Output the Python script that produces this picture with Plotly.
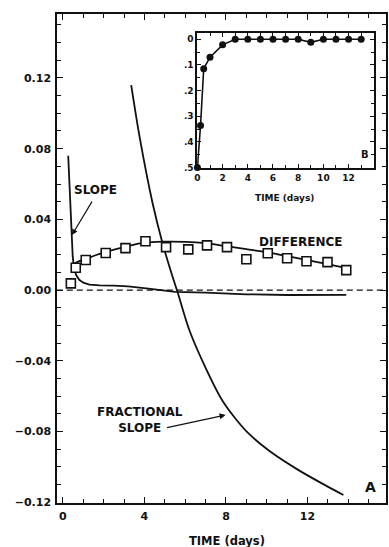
import plotly.graph_objects as go

# ---- Panel A data ----
diff_x = [0.39, 0.63, 1.12, 2.1, 3.07, 4.05, 5.06, 6.15, 7.07, 8.05, 9.0, 10.05, 11.0, 11.95, 12.98, 13.9]
diff_y = [0.0038, 0.0126, 0.017, 0.021, 0.0237, 0.0276, 0.0243, 0.023, 0.0253, 0.0243, 0.0174, 0.0208, 0.018, 0.0163, 0.0158, 0.0113]

diff_fit_x = [0.45, 0.7, 1.1, 1.6, 2.1, 3.1, 4.0, 5.0, 6.0, 7.0, 8.0, 9.0, 10.0, 11.0, 12.0, 13.0, 13.9]
diff_fit_y = [0.014, 0.0158, 0.0175, 0.0197, 0.0216, 0.0246, 0.0268, 0.0274, 0.0273, 0.0265, 0.0248, 0.0231, 0.0214, 0.0192, 0.0169, 0.0147, 0.0124]

slope_x = [0.26, 0.3, 0.36, 0.42, 0.48, 0.55, 0.65, 0.8, 1.0, 1.3, 1.8, 2.5, 3.2, 4.2, 5.5, 7.0, 9.0, 11.0, 13.9]
slope_y = [0.076, 0.064, 0.05, 0.034, 0.019, 0.012, 0.0085, 0.0058, 0.0042, 0.0031, 0.0026, 0.0025, 0.0021, 0.0008, -0.001, -0.0015, -0.0024, -0.0028, -0.0027]

frac_x = [3.35, 3.76, 4.4, 4.89, 5.38, 5.62, 6.2, 7.0, 7.82, 8.47, 9.12, 10.1, 11.56, 12.86, 13.76]
frac_y = [0.116, 0.0868, 0.0491, 0.0264, 0.0075, -0.001, -0.0226, -0.044, -0.0625, -0.0728, -0.0813, -0.0908, -0.1019, -0.1104, -0.116]

zero_x = [-0.3, 15.9]
zero_y = [0.0, 0.0]

# ---- Panel B (inset) data ----
prob_x = [0, 0.25, 0.5, 1, 2, 3, 4, 5, 6, 7, 8, 9, 10, 11, 12, 13]
prob_y = [0.5, 0.336, 0.115, 0.07, 0.022, 0.0, 0.0, 0.0, 0.0, 0.0, 0.0, 0.012, 0.0, 0.0, 0.0, 0.0]
prob_xticks = [0, 2, 4, 6, 8, 10, 12]
prob_yticks = [0, 0.1, 0.2, 0.3, 0.4, 0.5]
prob_yticktext = ["0", ".1", ".2", ".3", ".4", ".5"]

FONT = "DejaVu Sans"
BLACK = "#111111"

fig = go.Figure()

fig.add_trace(go.Scatter(x=zero_x, y=zero_y, mode="lines",
                         line=dict(color=BLACK, width=1.3, dash="6px,4px"),
                         xaxis="x", yaxis="y", showlegend=False))
fig.add_trace(go.Scatter(x=slope_x, y=slope_y, mode="lines",
                         line=dict(color=BLACK, width=1.8),
                         xaxis="x", yaxis="y", showlegend=False))
fig.add_trace(go.Scatter(x=frac_x, y=frac_y, mode="lines", line_shape="spline",
                         line=dict(color=BLACK, width=1.8, smoothing=0.8),
                         xaxis="x", yaxis="y", showlegend=False))
fig.add_trace(go.Scatter(x=diff_fit_x, y=diff_fit_y, mode="lines", line_shape="spline",
                         line=dict(color=BLACK, width=1.8),
                         xaxis="x", yaxis="y", showlegend=False))
fig.add_trace(go.Scatter(x=diff_x, y=diff_y, mode="markers",
                         marker=dict(symbol="square", size=9, color="white",
                                     line=dict(color=BLACK, width=1.6)),
                         xaxis="x", yaxis="y", showlegend=False))

fig.add_trace(go.Scatter(x=prob_x, y=prob_y, mode="lines+markers",
                         line=dict(color=BLACK, width=1.6),
                         marker=dict(symbol="circle", size=7, color=BLACK),
                         xaxis="x2", yaxis="y2", showlegend=False, cliponaxis=False))

tickfont = dict(family=FONT, size=11, color=BLACK, weight="bold")
smallfont = dict(family=FONT, size=9, color=BLACK, weight="bold")

fig.update_layout(
    width=389, height=547,
    margin=dict(l=57, r=1, t=14, b=44),
    paper_bgcolor="white", plot_bgcolor="white",
    xaxis=dict(domain=[0, 1], range=[-0.29, 15.85], tickmode="linear", tick0=0, dtick=4,
               ticks="inside", ticklen=6, tickwidth=1.3, tickcolor=BLACK,
               showline=True, linecolor=BLACK, linewidth=1.5, mirror="ticks",
               showgrid=False, zeroline=False, tickfont=tickfont, ticklabelstandoff=2,
               minor=dict(dtick=1, ticks="inside", ticklen=4, tickwidth=1.2, tickcolor=BLACK, showgrid=False)),
    yaxis=dict(domain=[0, 1], range=[-0.1205, 0.1562], tickmode="linear", tick0=0, dtick=0.04,
               tickformat=".2f", ticks="inside", ticklen=6, tickwidth=1.3, tickcolor=BLACK,
               showline=True, linecolor=BLACK, linewidth=1.5, mirror="ticks",
               showgrid=False, zeroline=False, tickfont=tickfont, ticklabelstandoff=2,
               minor=dict(dtick=0.01, ticks="inside", ticklen=4, tickwidth=1.2, tickcolor=BLACK, showgrid=False)),
    xaxis2=dict(domain=[0.426, 0.964], anchor="y2", range=[-0.02, 14.03], tickmode="array",
                tickvals=prob_xticks,
                ticks="inside", ticklen=4, tickwidth=1.2, tickcolor=BLACK,
                showline=True, linecolor=BLACK, linewidth=1.5, mirror="ticks",
                showgrid=False, zeroline=False, tickfont=smallfont,
                minor=dict(dtick=1, tick0=0, ticks="inside", ticklen=3, tickwidth=1.1, tickcolor=BLACK, showgrid=False)),
    yaxis2=dict(domain=[0.685, 0.961], anchor="x2", range=[0.502, -0.024], tickmode="array",
                tickvals=prob_yticks, ticktext=prob_yticktext,
                ticks="inside", ticklen=4, tickwidth=1.2, tickcolor=BLACK,
                showline=True, linecolor=BLACK, linewidth=1.5, mirror="ticks",
                showgrid=False, zeroline=False, tickfont=smallfont, ticklabelstandoff=0,
                minor=dict(dtick=0.05, tick0=0, ticks="inside", ticklen=3,
                           tickwidth=1.1, tickcolor=BLACK, showgrid=False)),
)

lab = dict(family=FONT, size=12, color=BLACK, weight="bold")

annotations = [
    # arrows
    dict(x=0.44, y=0.0311, xref="x", yref="y", text="", showarrow=True,
         ax=21, ay=-35, arrowhead=2, arrowsize=1, arrowwidth=1.2, arrowcolor=BLACK),
    dict(x=7.98, y=-0.0707, xref="x", yref="y", text="", showarrow=True,
         ax=-60, ay=13, arrowhead=2, arrowsize=1, arrowwidth=1.2, arrowcolor=BLACK),
    # labels
    dict(x=1.61, y=0.0566, xref="x", yref="y", text="SLOPE", showarrow=False, font=lab),
    dict(x=11.66, y=0.0272, xref="x", yref="y", text="DIFFERENCE", showarrow=False, font=lab),
    dict(x=3.8, y=-0.0735, xref="x", yref="y", text="FRACTIONAL<br>SLOPE", showarrow=False,
         font=lab, align="center"),
    dict(x=15.1, y=-0.1115, xref="x", yref="y", text="A", showarrow=False,
         font=dict(family=FONT, size=14, color=BLACK, weight="bold")),
    dict(x=8.05, y=(503 - 540.5) / 489, xref="x", yref="paper", text="TIME (days)", showarrow=False,
         yanchor="middle", font=dict(family=FONT, size=11.5, color=BLACK, weight="bold")),
    # inset labels
    dict(x=13.3, y=0.45, xref="x2", yref="y2", text="B", showarrow=False,
         font=dict(family=FONT, size=10, color=BLACK, weight="bold")),
    dict(x=6.9, y=(503 - 198) / 489, xref="x2", yref="paper", text="TIME (days)", showarrow=False,
         yanchor="middle", font=dict(family=FONT, size=9, color=BLACK, weight="bold")),
    dict(x=-1.8, y=0.24, xref="x2", yref="y2", text="PROB [difference <0]", showarrow=False,
         textangle=-90, font=dict(family=FONT, size=9, color=BLACK, weight="bold")),
]
fig.update_layout(annotations=annotations)

fig.write_html("out.html")
